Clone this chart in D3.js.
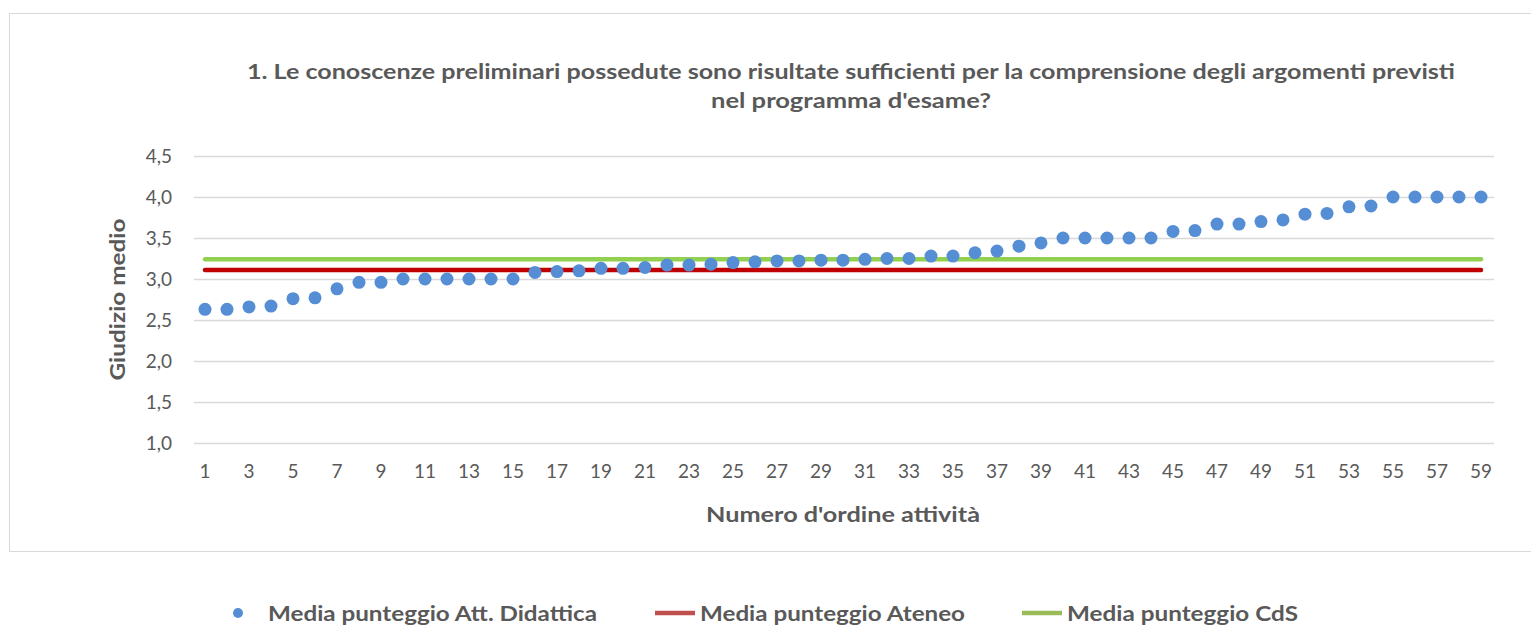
<!DOCTYPE html>
<html>
<head>
<meta charset="utf-8">
<script src="https://cdn.jsdelivr.net/npm/d3@7"></script>
<style>
  body { margin: 0; background: #fff; }
  text { font-family: Lato, "Open Sans", sans-serif; fill: #595959; }
</style>
</head>
<body>
<div id="chart-area"></div>
<script>
// media giudizio per attività didattica (ordinata)
const attDidattica = [
    2.63, 2.63, 2.66, 2.67, 2.76, 2.77, 2.88, 2.96, 2.96, 3.00,
    3.00, 3.00, 3.00, 3.00, 3.00, 3.08, 3.09, 3.10, 3.13, 3.13,
    3.14, 3.17, 3.17, 3.18, 3.20, 3.21, 3.22, 3.22, 3.23, 3.23,
    3.24, 3.25, 3.25, 3.28, 3.28, 3.32, 3.34, 3.40, 3.44, 3.50,
    3.50, 3.50, 3.50, 3.50, 3.58, 3.59, 3.67, 3.67, 3.70, 3.72,
    3.79, 3.80, 3.88, 3.89, 4.00, 4.00, 4.00, 4.00, 4.00
];
const mediaAteneo = 3.11;
const mediaCdS = 3.24;
const categories = attDidattica.map((d, i) => i + 1);
const yTicks = [1.0, 1.5, 2.0, 2.5, 3.0, 3.5, 4.0, 4.5];
const xTicks = categories.filter(d => d % 2 === 1);
const titleLines = [
    "1. Le conoscenze preliminari possedute sono risultate sufficienti per la comprensione degli argomenti previsti",
    "nel programma d'esame?"
];
const legendNames = ["Media punteggio Att. Didattica", "Media punteggio Ateneo", "Media punteggio CdS"];

const W = 1531, H = 627;
const plot = { left: 194, right: 1492, top: 156, bottom: 443 };

const svg = d3.select("#chart-area")
    .append("svg")
    .attr("width", W)
    .attr("height", H);

// chart frame
svg.append("rect")
    .attr("x", 9.5).attr("y", 13.5)
    .attr("width", 1530).attr("height", 538)
    .attr("fill", "#fff")
    .attr("stroke", "#d9d9d9");

const x = d3.scaleBand().domain(categories).range([plot.left, plot.right]);
const y = d3.scaleLinear().domain([1, 4.5]).range([plot.bottom, plot.top]);

// the original font runs wider than Lato, stretch text to the measured width
const fit = (sel, w) => sel.attr("textLength", w).attr("lengthAdjust", "spacingAndGlyphs");

/** Title */
const titleWidths = [1208, 280];
svg.append("g").selectAll("text")
    .data(titleLines)
    .enter()
    .append("text")
    .attr("x", 851)
    .attr("y", (d, i) => 79 + i * 29)
    .attr("text-anchor", "middle")
    .attr("font-size", "21px")
    .attr("font-weight", "bold")
    .text(d => d)
    .each(function(d, i) { fit(d3.select(this), titleWidths[i]); });

/** Axes */
const leftAxis = d3.axisLeft(y)
    .tickValues(yTicks)
    .tickSize(-(plot.right - plot.left + 2))
    .tickPadding(22)
    .tickFormat(d => d3.format(".1f")(d).replace(".", ","));

svg.append("g")
    .attr("transform", "translate(" + plot.left + ",0)")
    .call(leftAxis)
    .call(g => g.select(".domain").remove())
    .call(g => g.selectAll("line").attr("stroke", "#d9d9d9").attr("stroke-width", 1.3))
    .call(g => g.selectAll("text").attr("font-size", "19px").style("font-family", "Lato, sans-serif").attr("fill", "#595959"));

const bottomAxis = d3.axisBottom(x)
    .tickValues(xTicks)
    .tickSize(0)
    .tickPadding(22);

svg.append("g")
    .attr("transform", "translate(0," + plot.bottom + ")")
    .call(bottomAxis)
    .call(g => g.select(".domain").remove())
    .call(g => g.selectAll("text").attr("font-size", "19px").style("font-family", "Lato, sans-serif").attr("fill", "#595959"));

/** Axis labels */
svg.append("text")
    .attr("transform", "translate(125," + ((plot.top + plot.bottom) / 2) + ") rotate(-90)")
    .attr("text-anchor", "middle")
    .attr("font-size", "21px")
    .attr("font-weight", "bold")
    .text("Giudizio medio")
    .call(fit, 162);

svg.append("text")
    .attr("x", 843)
    .attr("y", 522)
    .attr("text-anchor", "middle")
    .attr("font-size", "21px")
    .attr("font-weight", "bold")
    .text("Numero d'ordine attività")
    .call(fit, 274);

/** Reference lines */
const cx = d => x(d) + x.bandwidth() / 2;
const line = d3.line().x(d => cx(d.cat)).y(d => y(d.v));

svg.append("path")
    .datum(categories.map(c => ({ cat: c, v: mediaAteneo })))
    .attr("d", line)
    .attr("fill", "none")
    .attr("stroke", "#c00000")
    .attr("stroke-width", 4.5)
    .attr("stroke-linecap", "round");

svg.append("path")
    .datum(categories.map(c => ({ cat: c, v: mediaCdS })))
    .attr("d", line)
    .attr("fill", "none")
    .attr("stroke", "#92d050")
    .attr("stroke-width", 4.5)
    .attr("stroke-linecap", "round");

/** Dots */
svg.append("g").selectAll("circle")
    .data(attDidattica)
    .enter()
    .append("circle")
    .attr("cx", (d, i) => cx(categories[i]))
    .attr("cy", d => y(d))
    .attr("r", 6.5)
    .attr("fill", "#558ed5");

/** Legend */
const leg = svg.append("g").attr("font-size", "20px").attr("font-weight", "bold");
leg.append("circle").attr("cx", 238).attr("cy", 613).attr("r", 5).attr("fill", "#558ed5");
leg.append("text").attr("x", 268).attr("y", 621).text(legendNames[0]).call(fit, 329);
leg.append("line").attr("x1", 655).attr("x2", 695).attr("y1", 613).attr("y2", 613)
    .attr("stroke", "#c0504d").attr("stroke-width", 4.5);
leg.append("text").attr("x", 700).attr("y", 621).text(legendNames[1]).call(fit, 265);
leg.append("line").attr("x1", 1022).attr("x2", 1062).attr("y1", 613).attr("y2", 613)
    .attr("stroke", "#9bbb59").attr("stroke-width", 4.5);
leg.append("text").attr("x", 1067).attr("y", 621).text(legendNames[2]).call(fit, 231);
</script>
</body>
</html>
